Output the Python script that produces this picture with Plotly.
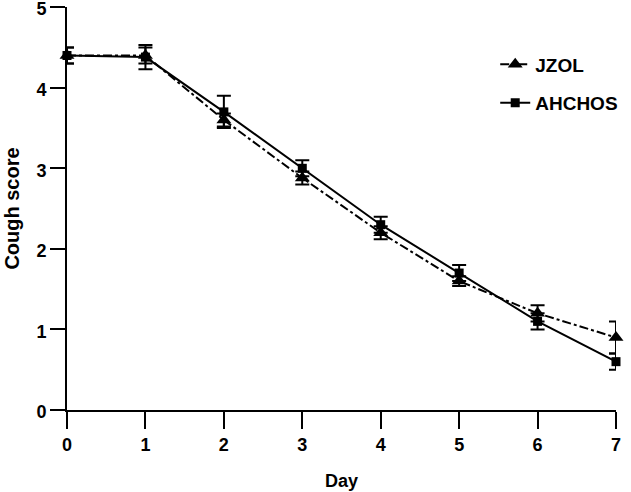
import plotly.graph_objects as go

days = [0, 1, 2, 3, 4, 5, 6, 7]
jzol = [4.4, 4.4, 3.6, 2.88, 2.2, 1.6, 1.2, 0.9]
jzol_err = [0.1, 0.1, 0.08, 0.08, 0.08, 0.06, 0.1, 0.2]
ahchos = [4.4, 4.38, 3.7, 3.0, 2.3, 1.7, 1.1, 0.6]
ahchos_err = [0.1, 0.15, 0.2, 0.1, 0.1, 0.1, 0.1, 0.1]
yticks = [0, 1, 2, 3, 4, 5]

FAM = "Liberation Sans, Arial, sans-serif"

fig = go.Figure()
fig.add_trace(go.Scatter(
    x=days, y=jzol, name="JZOL", mode="lines+markers", legendgroup="a",
    line=dict(color="black", width=2, dash="dashdot"),
    marker=dict(symbol="triangle-up", size=13, color="black"),
    error_y=dict(type="data", array=jzol_err, color="black", thickness=2, width=7),
    cliponaxis=False,
))
fig.add_trace(go.Scatter(
    x=days, y=ahchos, name="AHCHOS", mode="lines+markers", legendgroup="b",
    line=dict(color="black", width=2),
    marker=dict(symbol="square", size=9, color="black"),
    error_y=dict(type="data", array=ahchos_err, color="black", thickness=2, width=7),
    cliponaxis=False,
))

fig.update_layout(
    template="none",
    autosize=False,
    width=631, height=492,
    margin=dict(l=67, r=15, t=7, b=82),
    plot_bgcolor="white", paper_bgcolor="white",
    font=dict(family=FAM, size=18, color="black"),
    showlegend=True,
    legend=dict(x=0.78, y=0.905, xanchor="left", yanchor="top",
                font=dict(family=FAM, size=19, color="black", weight="bold"),
                tracegroupgap=11, bgcolor="rgba(0,0,0,0)"),
    xaxis=dict(range=[0, 7], tickvals=days, ticks="outside", ticklen=17, tickwidth=2,
               automargin=False, tickcolor="black",
               showline=True, linecolor="black", linewidth=2, showgrid=False, zeroline=False,
               tickfont=dict(family=FAM, size=18, weight="bold"),
               title=dict(text="Day", font=dict(family=FAM, size=18, weight="bold"), standoff=21)),
    yaxis=dict(range=[0, 5.002], tickvals=yticks, ticks="outside", ticklen=15, tickwidth=2,
               automargin=False, tickcolor="black", ticklabeloverflow="allow",
               ticklabelshift=2,
               showline=True, linecolor="black", linewidth=2, showgrid=False, zeroline=False,
               tickfont=dict(family=FAM, size=18, weight="bold"),
               title=dict(text="Cough score", font=dict(family=FAM, size=20, weight="bold"), standoff=11)),
)
fig.write_html("out.html", config={"displayModeBar": False, "responsive": False},
               post_script="document.body.style.margin='0';document.body.style.overflow='hidden';")
